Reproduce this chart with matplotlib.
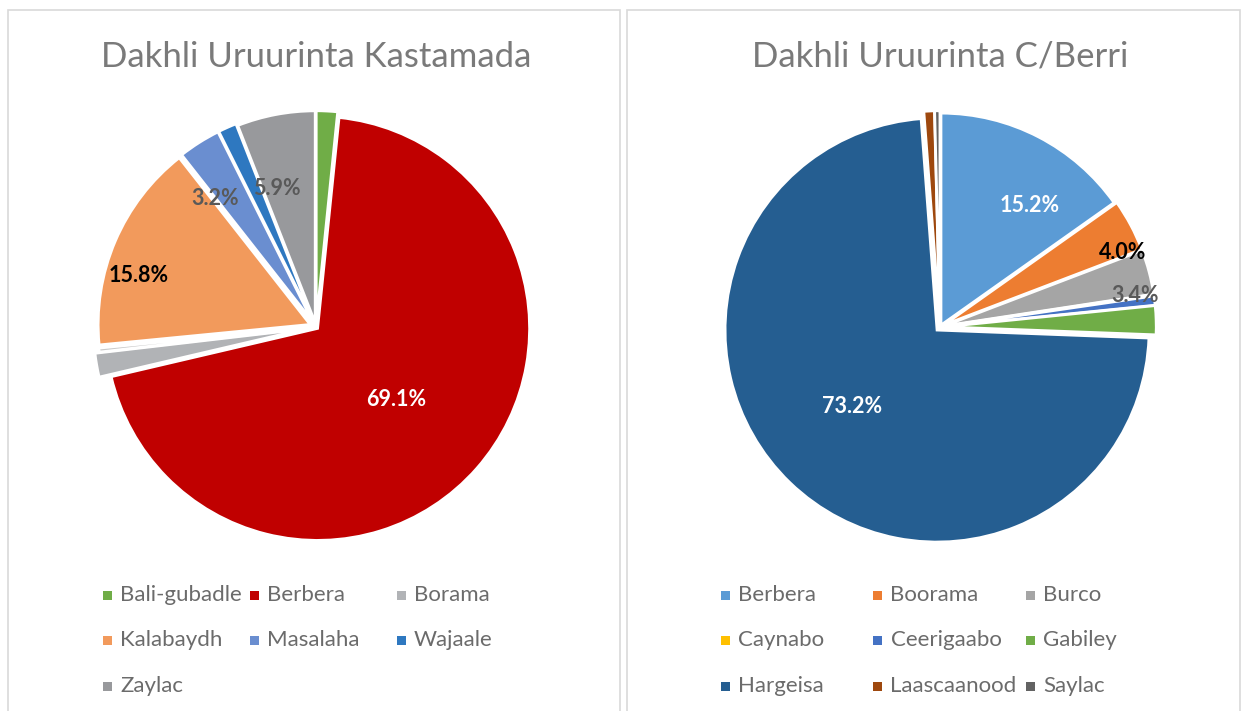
import matplotlib
matplotlib.use("Agg")
import matplotlib.pyplot as plt
from matplotlib.patches import Rectangle
import numpy as np

plt.rcParams['font.family'] = ['Lato', 'DejaVu Sans']

# ---------------- data ----------------
left_title = "Dakhli Uruurinta Kastamada"
left_cats = ["Bali-gubadle", "Berbera", "Borama", "", "Kalabaydh", "Masalaha", "Wajaale", "Zaylac"]
left_vals = [1.6, 69.1, 1.8, 0.3, 15.8, 3.2, 1.4, 5.9]
left_labels = ["", "69.1%", "", "", "15.8%", "3.2%", "", "5.9%"]
left_colors = ["#70AD47", "#C00000", "#B1B3B6", "#C8C8C8", "#F29A5C", "#6A8ED0", "#2E78C0", "#98999C"]

right_title = "Dakhli Uruurinta C/Berri"
right_cats = ["Berbera", "Boorama", "Burco", "Caynabo", "Ceerigaabo", "Gabiley", "Hargeisa", "Laascaanood", "Saylac"]
right_vals = [15.2, 4.0, 3.4, 0.1, 0.7, 2.2, 73.2, 0.8, 0.4]
right_labels = ["15.2%", "4.0%", "3.4%", "", "", "", "73.2%", "", ""]
right_colors = ["#5B9BD5", "#ED7D31", "#A5A5A5", "#FFC000", "#4472C4", "#70AD47", "#255E91", "#9E480E", "#636363"]

# ---------------- styles ----------------
W, H = 1243, 711
fig = plt.figure(figsize=(W / 100, H / 100), dpi=100)
fig.patch.set_facecolor("white")

def px_axes(cx, cy, r):
    return fig.add_axes([(cx - r) / W, (H - cy - r) / H, 2 * r / W, 2 * r / H])

# panel borders
for x0, x1 in [(8, 620), (627, 1240)]:
    fig.patches.append(Rectangle((x0 / W, -0.01), (x1 - x0) / W, (H - 10) / H + 0.01,
                                 transform=fig.transFigure, fill=False,
                                 edgecolor="#D9D9D9", linewidth=1.2))

LIM = 1.04

def draw_pie(cx, cy, r, vals, colors, labels, label_style, explode, title):
    ax = px_axes(cx, cy, r * LIM)
    wedges, _ = ax.pie(vals, colors=colors, startangle=90, counterclock=False,
                       explode=explode,
                       wedgeprops=dict(edgecolor="white", linewidth=2))
    ax.set_xlim(-LIM, LIM)
    ax.set_ylim(-LIM, LIM)
    ax.set_aspect("equal")
    ax.axis("off")
    for w, lab in zip(wedges, labels):
        if not lab:
            continue
        rr, col, dang = label_style[lab]
        ang = np.deg2rad((w.theta1 + w.theta2) / 2 + dang)
        ax.text(rr * np.cos(ang), rr * np.sin(ang), lab, ha="center", va="center",
                fontsize=15.5, fontweight="bold", color=col)
    fig.text(cx / W, 1 - 57 / H, title, ha="center", va="center",
             fontsize=25, color="#7A7A7A")
    return ax

left_style = {"69.1%": (0.51, "white", -1), "15.8%": (0.87, "black", 7),
              "3.2%": (0.77, "#595959", 6), "5.9%": (0.68, "#595959", 5)}
right_style = {"15.2%": (0.71, "white", -9), "4.0%": (0.93, "black", -6),
               "3.4%": (0.93, "#595959", -5.5), "73.2%": (0.56, "white", -4)}

left_explode = [0.02, 0.01, 0.05, 0.03, 0.03, 0.03, 0.03, 0.02]
right_explode = [0.01, 0.02, 0.02, 0.02, 0.02, 0.02, 0.02, 0.02, 0.02]

r = 212
draw_pie(316, 327, r, left_vals, left_colors, left_labels, left_style, left_explode, left_title)
draw_pie(940, 327, r, right_vals, right_colors, right_labels, right_style, right_explode, right_title)

# legends
def draw_legend(cats, colors, x0, dx, y0, dy):
    i = 0
    for c, col in zip(cats, colors):
        if not c:
            continue
        row, colidx = divmod(i, 3)
        x = x0 + colidx * dx
        y = y0 + row * dy
        s = 9
        fig.patches.append(Rectangle(((x - s / 2) / W, (H - y - s / 2) / H), s / W, s / H,
                                     transform=fig.transFigure, facecolor=col, edgecolor="none"))
        fig.text((x + 13) / W, 1 - y / H, c, ha="left", va="center",
                 fontsize=16, color="#6B6B6B")
        i += 1

draw_legend(left_cats, left_colors, 107, 147, 595, 45.5)
draw_legend(right_cats, right_colors, 725, 152.5, 595, 45.5)

fig.savefig("out.png", dpi=100, facecolor="white")
